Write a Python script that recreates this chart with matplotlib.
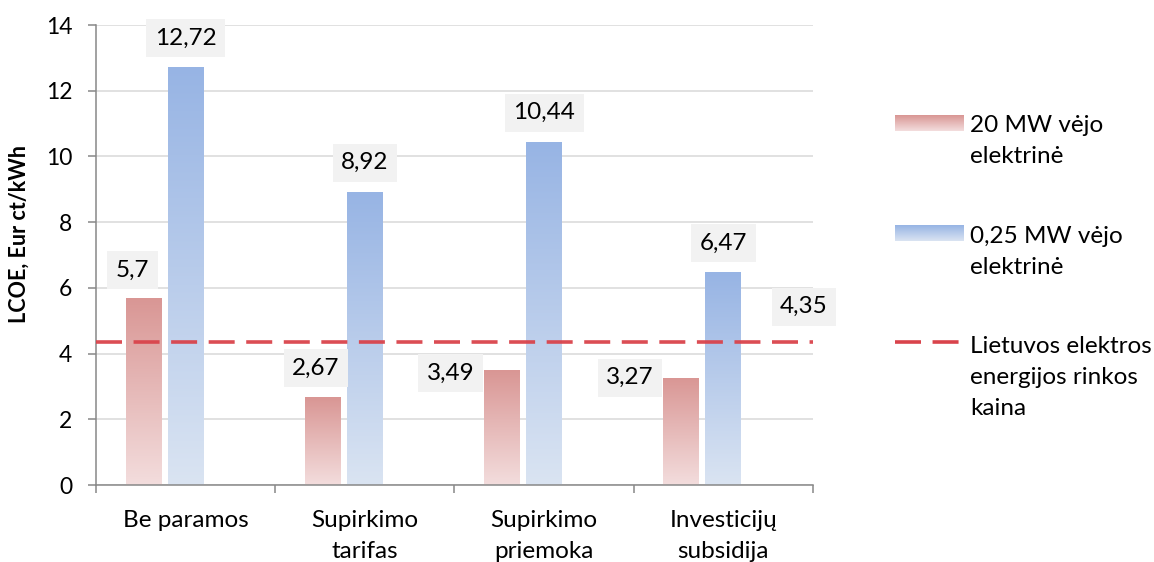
import numpy as np
import matplotlib
matplotlib.use("Agg")
import matplotlib.pyplot as plt
from matplotlib.colors import LinearSegmentedColormap, Normalize
from matplotlib.patches import Rectangle
from matplotlib.lines import Line2D
from matplotlib.image import BboxImage
from matplotlib.transforms import Bbox, TransformedBbox
from matplotlib.legend_handler import HandlerBase

# ── Data ───────────────────────────────────────────────────────────────────────
categories = ["Be paramos", "Supirkimo\ntarifas", "Supirkimo\npriemoka", "Investicijų\nsubsidija"]
lcoe_20mw = [5.70, 2.67, 3.49, 3.27]
lcoe_025mw = [12.72, 8.92, 10.44, 6.47]
market_price = 4.35

series_names = ["20 MW vėjo\nelektrinė", "0,25 MW vėjo\nelektrinė",
                "Lietuvos elektros\nenergijos rinkos\nkaina"]

# label nudges (points) for the 20 MW labels, which sit beside some bars
red_dx = [-8, -5, -37, -37]
red_dy = [20, 21, -2, 0]

# ── Style ──────────────────────────────────────────────────────────────────────
plt.rcParams["font.family"] = ["Lato", "DejaVu Sans"]
red_cmap = LinearSegmentedColormap.from_list("red_grad", ["#f3dddd", "#d99694"])
blue_cmap = LinearSegmentedColormap.from_list("blue_grad", ["#dae4f2", "#97b4e4"])
line_color = "#d9434b"
grid_color = "#d9d9d9"
axis_color = "#888888"
FS = 17.5


def fmt(v):
    return f"{v:g}".replace(".", ",")


def gradient_fill(ax, bars, cmap):
    grad = np.linspace(1, 0, 256).reshape(-1, 1)
    for bar in bars:
        x0, y0 = bar.get_x(), bar.get_y()
        w, h = bar.get_width(), bar.get_height()
        bar.set_facecolor("none")
        im = ax.imshow(grad, cmap=cmap, norm=Normalize(0, 1), aspect="auto",
                       extent=(x0, x0 + w, y0, y0 + h), origin="upper",
                       interpolation="bilinear", zorder=2)
        im.set_clip_path(bar)


class GradientHandler(HandlerBase):
    def __init__(self, cmap, shift=0.0):
        super().__init__()
        self.cmap = cmap
        self.shift = shift

    def create_artists(self, legend, orig_handle, xdescent, ydescent,
                       width, height, fontsize, trans):
        h = 11
        y0 = -ydescent + (height - h) / 2 + self.shift
        bb = TransformedBbox(Bbox.from_bounds(-xdescent, y0, width, h), trans)
        img = BboxImage(bb, cmap=self.cmap, norm=Normalize(0, 1),
                        interpolation="bilinear")
        img.set_data(np.linspace(1, 0, 64).reshape(-1, 1))
        return [img]


class ShiftedLineHandler(HandlerBase):
    def __init__(self, shift=0.0):
        super().__init__()
        self.shift = shift

    def create_artists(self, legend, orig_handle, xdescent, ydescent,
                       width, height, fontsize, trans):
        y = -ydescent + height / 2 + self.shift
        ln = Line2D([-xdescent, -xdescent + width], [y, y])
        ln.update_from(orig_handle)
        ln.set_transform(trans)
        return [ln]


# ── Figure ─────────────────────────────────────────────────────────────────────
fig = plt.figure(figsize=(11.54, 5.62), dpi=100)
ax = fig.add_axes([96 / 1154, 77 / 562, 717 / 1154, 460 / 562])

x = np.arange(len(categories))
width = 0.2
red_bars = ax.bar(x - 0.235, lcoe_20mw, width, color="none", zorder=2)
blue_bars = ax.bar(x, lcoe_025mw, width, color="none", zorder=2)
gradient_fill(ax, red_bars, red_cmap)
gradient_fill(ax, blue_bars, blue_cmap)

ax.axhline(market_price, color=line_color, lw=2.6, dashes=(7.2, 3.2),
           dash_capstyle="butt", alpha=0.95, zorder=4)

# value labels
box = dict(boxstyle="square,pad=0.35", fc="#f2f2f2", ec="none")
for i, bar in enumerate(red_bars):
    ax.annotate(fmt(lcoe_20mw[i]), (bar.get_x() + bar.get_width() / 2, bar.get_height()),
                xytext=(red_dx[i], red_dy[i]), textcoords="offset points",
                ha="center", va="center", fontsize=FS, bbox=box, zorder=5)
for i, bar in enumerate(blue_bars):
    ax.annotate(fmt(lcoe_025mw[i]), (bar.get_x() + bar.get_width() / 2, bar.get_height()),
                xytext=(0, 21), textcoords="offset points",
                ha="center", va="center", fontsize=FS, bbox=box, zorder=5)
ax.annotate(fmt(market_price), (1.0, market_price), xycoords=("axes fraction", "data"),
            xytext=(-6.5, 25.5), textcoords="offset points",
            ha="center", va="center", fontsize=FS, bbox=box, zorder=5,
            annotation_clip=False)

# axes
ax.set_xlim(-0.5, len(categories) - 0.5)
ax.set_ylim(0, 14)
ax.set_yticks(np.arange(0, 15, 2))
ax.set_xticks(np.arange(-0.5, len(categories), 1.0))
ax.set_xticklabels([])
ax.set_xticks(x, minor=True)
ax.set_xticklabels(categories, minor=True, fontsize=FS, linespacing=1.6)
ax.tick_params(axis="x", which="major", length=6, width=1.1, color=axis_color)
ax.tick_params(axis="x", which="minor", length=0, pad=18)
ax.tick_params(axis="y", length=6, width=1.1, color=axis_color, labelsize=16.5, pad=11)
ax.yaxis.grid(True, color=grid_color, lw=1.1, zorder=0)
ax.set_axisbelow(True)
for s in ["top", "right"]:
    ax.spines[s].set_visible(False)
for s in ["left", "bottom"]:
    ax.spines[s].set_color(axis_color)
    ax.spines[s].set_linewidth(1.1)

ax.set_ylabel("LCOE, Eur ct/kWh", fontsize=15.5, fontweight="bold")
ax.yaxis.set_label_coords(-0.092, 0.545)

# legend
red_proxy = Rectangle((0, 0), 1, 1)
blue_proxy = Rectangle((0, 0), 1, 1)
line_proxy = Line2D([], [], color=line_color, lw=2.6, dashes=(7.2, 3.2),
                    dash_capstyle="butt")
leg = fig.legend([red_proxy, blue_proxy, line_proxy], series_names,
                 handler_map={red_proxy: GradientHandler(red_cmap, 13.0),
                              blue_proxy: GradientHandler(blue_cmap, 13.0),
                              line_proxy: ShiftedLineHandler(26.0)},
                 loc="upper left", bbox_to_anchor=(895 / 1154, 1 - 115 / 562),
                 frameon=False, fontsize=FS, handlelength=2.8, handletextpad=0.3,
                 labelspacing=2.4, borderpad=0, borderaxespad=0)
for t in leg.get_texts():
    t.set_linespacing(1.6)

fig.savefig("out.png", dpi=100)
